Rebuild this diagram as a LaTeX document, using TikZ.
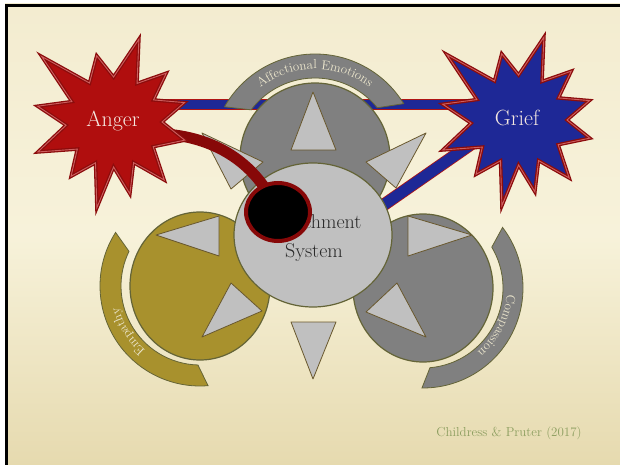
\documentclass[tikz,border=0pt]{standalone}
\usetikzlibrary{shapes.geometric,decorations.text,calc}

\definecolor{parchtop}{RGB}{243,236,208}
\definecolor{parchmid}{RGB}{247,242,218}
\definecolor{parchbot}{RGB}{230,218,175}
\definecolor{discgray}{RGB}{128,128,128}
\definecolor{discgold}{RGB}{168,145,45}
\definecolor{discline}{RGB}{100,100,55}
\definecolor{trifill}{RGB}{192,192,192}
\definecolor{triline}{RGB}{105,88,45}
\definecolor{barblue}{RGB}{30,40,150}
\definecolor{barred}{RGB}{175,20,20}
\definecolor{angerred}{RGB}{176,14,14}
\definecolor{griefblue}{RGB}{30,40,150}
\definecolor{starline}{RGB}{140,12,12}
\definecolor{starlight}{RGB}{205,95,95}
\definecolor{linkred}{RGB}{135,8,8}
\definecolor{bandtext}{RGB}{236,230,205}
\definecolor{startxt}{RGB}{245,232,225}
\definecolor{labeltxt}{RGB}{42,42,42}
\definecolor{credit}{RGB}{140,158,95}

\tikzset{
  disc/.style={ellipse, draw=discline, line width=1.2, inner sep=0pt},
  band/.style={draw=discline, line width=0.8},
  tri/.style={fill=trifill, draw=triline, line width=0.8, line join=round},
  bluebar/.style={draw=barred, double=barblue, line width=0.8},
  starbody/.style={draw=starline, double=starlight, line width=1.3, double distance=0.9},
  startext/.style={text=startxt, font=\fontsize{22}{24}\selectfont},
  burst/.pic={
    \path[pic actions] (-137:96) -- (-120:45) -- (-103:68) -- (-88:45) -- (-72:87) -- (-57:46)
      -- (-42:73) -- (-28:47) -- (-15:75) -- (0:50) -- (14:75) -- (31:48) -- (48:78) -- (62:46)
      -- (76:74) -- (88:45) -- (100:87) -- (112:44) -- (127:68) -- (142:44) -- (158:80)
      -- (176:46) -- (-168:76) -- (-153:45) -- cycle;
  }
}

\begin{document}
\begin{tikzpicture}[x=1pt, y=-1pt]
    \useasboundingbox (0,0) rectangle (620,465);

    % Draw the paper
    \fill[white] (0,0) rectangle (620,465);
    \shade[top color=parchtop, bottom color=parchbot, middle color=parchmid] (5,4) rectangle (620,465);
    \draw[line width=3] (6.5,465) -- (6.5,5.5) -- (620,5.5);

    % Draw the blue bars
    \coordinate (barW) at (150,104.5);
    \coordinate (barE) at (485,104.5);
    \coordinate (barNE) at (490,131);
    \coordinate (barSW) at (372,213);
    \draw[bluebar, double distance=9.5] (barW) -- (barE);
    \draw[bluebar, double distance=11] (barNE) -- (barSW);

    % Draw the bands round the discs
    \coordinate (ctop) at (315,158);
    \coordinate (cleft) at (200,286);
    \coordinate (cright) at (423,288);
    \filldraw[band, fill=discgray] ($(ctop)+(-150.5:104)$) arc[start angle=-150.5, end angle=-31.5, radius=104]
        -- ($(ctop)+(-38.9:80)$) arc[start angle=-38.9, end angle=-143, radius=80] -- cycle;
    \filldraw[band, fill=discgold] ($(cleft)+(-147.6:100)$) arc[start angle=-147.6, end angle=-274.6, radius=100]
        -- ($(cleft)+(-268.5:79)$) arc[start angle=-268.5, end angle=-154, radius=79] -- cycle;
    \filldraw[band, fill=discgray] ($(cright)+(-37.3:100)$) arc[start angle=-37.3, end angle=90.6, radius=100]
        -- ($(cright)+(85:80)$) arc[start angle=85, end angle=-30.7, radius=80] -- cycle;

    % Band labels
    \path[decorate, decoration={text along path, text align=center,
        text={|\color{bandtext}\fontsize{13}{13}\selectfont|Affectional Emotions}}]
        ($(ctop)+(-155:89)$) arc[start angle=-155, end angle=-25, radius=89];
    \path[decorate, decoration={text along path, text align=center,
        text={|\color{bandtext}\fontsize{13}{13}\selectfont|Empathy}}]
        ($(cleft)+(108:84)$) arc[start angle=108, end angle=188, radius=84];
    \path[decorate, decoration={text along path, text align=center,
        text={|\color{bandtext}\fontsize{13}{13}\selectfont|Compassion}}]
        ($(cright)+(-15:84)$) arc[start angle=-15, end angle=69, radius=84];

    % Draw the discs
    \node[disc, fill=discgray, minimum width=150, minimum height=150] (affect) at (ctop) {};
    \node[disc, fill=discgold, minimum width=140, minimum height=148] (empath) at (cleft) {};
    \node[disc, fill=discgray, minimum width=140, minimum height=148] (compass) at (cright) {};
    \node[disc, fill=trifill, minimum width=158, minimum height=144] (attach) at (313,235) {};
    \node[text=labeltxt, font=\fontsize{20}{29}\selectfont, align=center] (attachlabel) at (314,238) {Attachment\\System};

    % Draw the triangles
    \foreach \ax/\ay/\bx/\by/\cx/\cy in {313/92/291/150/336/150, 202/133/263/162/231/189,
        366/162/426/133/396/188, 156/235/219/216/219/256, 202/337/231/283/262/311,
        291/322/336/322/313/379, 408/216/472/235/408/256, 366/312/397/283/426/337}
        \draw[tri] (\ax,\ay) -- (\bx,\by) -- (\cx,\cy) -- cycle;

    % Draw the red link
    \coordinate (linkstart) at (165,134);
    \coordinate (blockc) at (278,212);
    \draw[linkred, line width=11] (linkstart) .. controls (218,138) and (258,165) .. (blockc);

    % Draw the stars
    \pic[starbody, fill=angerred] at (112,122) {burst};
    \node[startext] (anger) at (113,121) {Anger};
    \pic[starbody, fill=griefblue] at (517,120) {burst};
    \node[startext] (grief) at (517,118) {Grief};

    % Black disc
    \node[ellipse, fill=black, draw=linkred, line width=4, minimum width=64, minimum height=58, inner sep=0pt] (block) at (blockc) {};

    \node[text=credit, font=\fontsize{13}{15}\selectfont] (cite) at (509,433) {Childress \& Pruter (2017)};
\end{tikzpicture}
\end{document}
